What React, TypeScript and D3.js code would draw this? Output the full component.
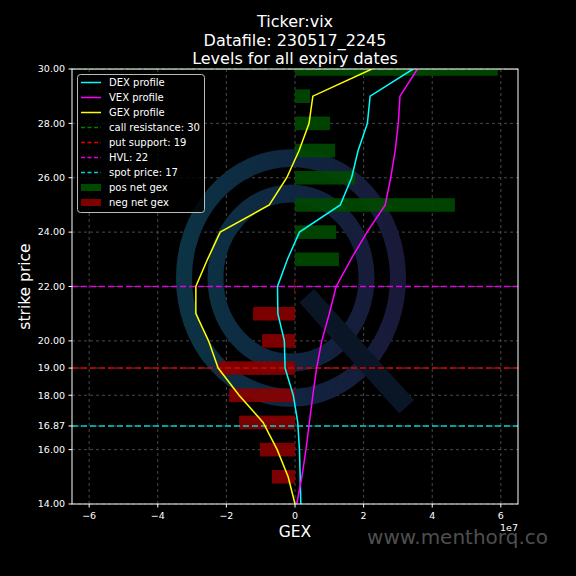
import React from 'react';
import * as d3 from 'd3';

// strikes and profiles (values in units of 1e7)
const strikes = [14, 15, 16, 17, 18, 19, 20, 21, 22, 23, 24, 25, 26, 27, 28, 29, 30];
const netGex = [0, -0.67, -1.02, -1.63, -1.92, -2.22, -0.96, -1.22, -0.03, 1.28, 1.2, 4.66, 1.75, 1.17, 1.02, 0.44, 5.91];
const dexProfile = [0.17, 0.15, 0.13, 0.08, -0.05, -0.29, -0.31, -0.5, -0.51, -0.22, 0.13, 1.32, 1.65, 1.84, 2.11, 2.19, 3.44];
const vexProfile = [0.05, 0.2, 0.32, 0.42, 0.52, 0.63, 0.78, 1.0, 1.2, 1.63, 2.1, 2.63, 2.79, 2.92, 3.01, 3.06, 3.57];
const gexProfile = [0, -0.2, -0.52, -0.93, -1.63, -2.24, -2.52, -2.89, -2.89, -2.55, -2.18, -0.75, -0.24, 0.12, 0.41, 0.52, 2.24];

const callResistance = 30;
const putSupport = 19;
const hvl = 22;
const spotPrice = 16.87;

const xTicks = [-6, -4, -2, 0, 2, 4, 6];
const yTicks = [14, 16, 16.87, 18, 19, 20, 22, 24, 26, 28, 30];
const titleLines = ['Ticker:vix', 'Datafile: 230517_2245', 'Levels for all expiry dates'];

const W = 576;
const H = 576;
const margin = { left: 72, right: 58, top: 69, bottom: 72 };
const FONT = 'DejaVu Sans, sans-serif';

export default function App() {
  const x = d3.scaleLinear().domain([-6.5, 6.5]).range([margin.left, W - margin.right]);
  const y = d3.scaleLinear().domain([14, 30]).range([H - margin.bottom, margin.top]);
  const x0 = x(0);
  const barH = y(0) - y(0.5);

  const line = (vals: number[]) =>
    d3
      .line<number>()
      .x((v) => x(v))
      .y((_, i) => y(strikes[i]))(vals) as string;

  const levels = [
    { v: callResistance, color: '#008000' },
    { v: putSupport, color: '#e00000' },
    { v: hvl, color: '#e000e0' },
    { v: spotPrice, color: '#00d0d0' },
  ];

  const legendItems = [
    { label: 'DEX profile', color: '#00ffff', kind: 'line' },
    { label: 'VEX profile', color: '#ff00ff', kind: 'line' },
    { label: 'GEX profile', color: '#ffff00', kind: 'line' },
    { label: 'call resistance: ' + callResistance, color: '#008000', kind: 'dash' },
    { label: 'put support: ' + putSupport, color: '#e00000', kind: 'dash' },
    { label: 'HVL: ' + hvl, color: '#e000e0', kind: 'dash' },
    { label: 'spot price: ' + Math.round(spotPrice), color: '#00d0d0', kind: 'dash' },
    { label: 'pos net gex', color: '#004a00', kind: 'patch' },
    { label: 'neg net gex', color: '#800000', kind: 'patch' },
  ];

  const left = margin.left;
  const right = W - margin.right;
  const top = margin.top;
  const bottom = H - margin.bottom;
  const cx = (left + right) / 2;

  return (
    <svg width={W} height={H} style={{ position: 'absolute', left: 0, top: 0, background: '#000' }} fontFamily={FONT}>
      <defs>
        <clipPath id="plot">
          <rect x={left} y={top} width={right - left} height={bottom - top} />
        </clipPath>
        <linearGradient id="logoGrad" gradientUnits="userSpaceOnUse" x1={-115} y1={0} x2={115} y2={0}>
          <stop offset="0" stopColor="#0b3444" />
          <stop offset="0.5" stopColor="#0f2640" />
          <stop offset="1" stopColor="#1a1838" />
        </linearGradient>
      </defs>
      <rect width={W} height={H} fill="#000" />

      {/* title */}
      {titleLines.map((t, i) => (
        <text key={t} x={cx} y={27 + i * 18.5} fill="#fff" fontSize={16} textAnchor="middle">
          {t}
        </text>
      ))}

      {/* grid */}
      <g stroke="#5a5a5a" strokeWidth={0.8} strokeDasharray="3,3">
        {xTicks.map((t) => (
          <line key={'gx' + t} x1={x(t)} x2={x(t)} y1={top} y2={bottom} />
        ))}
        {yTicks.map((t) => (
          <line key={'gy' + t} x1={left} x2={right} y1={y(t)} y2={y(t)} />
        ))}
      </g>

      {/* logo watermark */}
      <g transform="translate(291,278) scale(1,1.12)">
        <circle r={107} fill="none" stroke="url(#logoGrad)" strokeWidth={16} />
        <circle r={75.5} fill="none" stroke="url(#logoGrad)" strokeWidth={16} />
      </g>
      <line x1={306.7} y1={295.8} x2={406.7} y2={406.7} stroke="#0a1525" strokeWidth={20} />

      <g clipPath="url(#plot)">
        {/* net gex bars */}
        {strikes.map((s, i) => {
          const v = netGex[i];
          if (v === 0) return null;
          return (
            <rect
              key={'b' + s}
              x={Math.min(x(v), x0)}
              width={Math.abs(x(v) - x0)}
              y={y(s) - barH / 2}
              height={barH}
              fill={v > 0 ? '#004a00' : '#8b0000'}
              fillOpacity={0.9}
            />
          );
        })}

        {/* level lines */}
        {levels.map((l) => (
          <line
            key={'l' + l.v}
            x1={left}
            x2={right}
            y1={y(l.v)}
            y2={y(l.v)}
            stroke={l.color}
            strokeWidth={1.5}
            strokeDasharray="6,3"
          />
        ))}

        {/* profiles */}
        <path d={line(dexProfile)} fill="none" stroke="#00ffff" strokeWidth={1.5} />
        <path d={line(vexProfile)} fill="none" stroke="#ff00ff" strokeWidth={1.5} />
        <path d={line(gexProfile)} fill="none" stroke="#ffff00" strokeWidth={1.5} />
      </g>

      {/* spines */}
      <rect x={left} y={top} width={right - left} height={bottom - top} fill="none" stroke="#fff" strokeWidth={1} />

      {/* x axis */}
      {xTicks.map((t) => (
        <g key={'xt' + t}>
          <line x1={x(t)} x2={x(t)} y1={bottom} y2={bottom + 3.5} stroke="#fff" />
          <text x={x(t)} y={bottom + 15} fill="#fff" fontSize={9.5} textAnchor="middle">
            {t < 0 ? '\u2212' + Math.abs(t) : t}
          </text>
        </g>
      ))}
      <text x={right} y={bottom + 27} fill="#fff" fontSize={9.5} textAnchor="end">
        1e7
      </text>
      <text x={cx} y={bottom + 33} fill="#fff" fontSize={15.5} textAnchor="middle">
        GEX
      </text>

      {/* y axis */}
      {yTicks.map((t) => (
        <g key={'yt' + t}>
          <line x1={left - 3.5} x2={left} y1={y(t)} y2={y(t)} stroke="#fff" />
          <text x={left - 7} y={y(t)} dy="0.35em" fill="#fff" fontSize={9.5} textAnchor="end">
            {t.toFixed(2)}
          </text>
        </g>
      ))}
      <text
        transform={`translate(30,${(top + bottom) / 2}) rotate(-90)`}
        fill="#fff"
        fontSize={15.5}
        textAnchor="middle"
      >
        strike price
      </text>

      {/* legend */}
      <g>
        <rect x={77.5} y={74.5} width={127} height={138} rx={3} fill="#000" fillOpacity={0.8} stroke="#bbb" strokeWidth={1} />
        {legendItems.map((it, i) => {
          const ly = 82.5 + i * 15;
          return (
            <g key={it.label}>
              {it.kind === 'patch' ? (
                <rect x={81} y={ly - 3.5} width={20} height={7} fill={it.color} />
              ) : (
                <line
                  x1={81}
                  x2={101}
                  y1={ly}
                  y2={ly}
                  stroke={it.color}
                  strokeWidth={1.5}
                  strokeDasharray={it.kind === 'dash' ? '4,2.5' : undefined}
                />
              )}
              <text x={109} y={ly} dy="0.35em" fill="#fff" fontSize={10}>
                {it.label}
              </text>
            </g>
          );
        })}
      </g>

      {/* site watermark */}
      <text x={548} y={544} fill="#4f4f4f" fontSize={20} textAnchor="end">
        www.menthorq.co
      </text>
    </svg>
  );
}
